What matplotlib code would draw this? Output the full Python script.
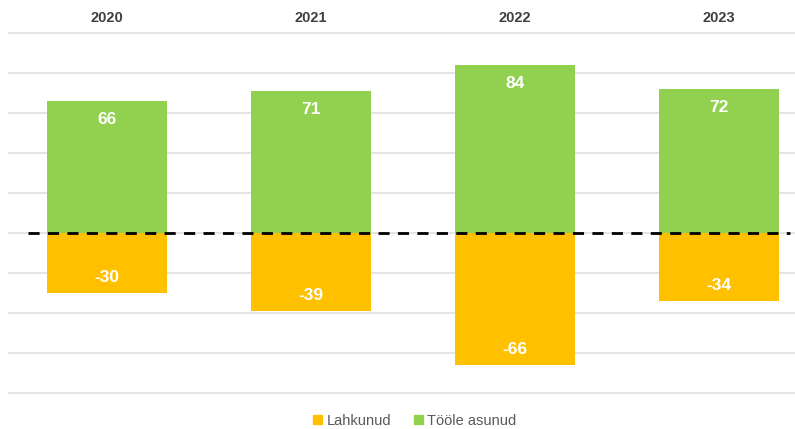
import numpy as np
import matplotlib.pyplot as plt
from matplotlib.patches import Patch

# ** DONNÉES **
aastad = ['2020', '2021', '2022', '2023']
toole_asunud = [66, 71, 84, 72]
lahkunud = [-30, -39, -66, -34]

ROHELINE = '#92D050'
ORANZ = '#FFC000'

plt.rcParams['font.family'] = ['Liberation Sans', 'DejaVu Sans']

fig = plt.figure(figsize=(7.95, 4.29), dpi=100)
W, H = 795, 429
ax = fig.add_axes([9 / W, (H - 393) / H, (795 - 9) / W, 360 / H])

x = np.arange(len(aastad))
laius = 0.588
b1 = ax.bar(x, toole_asunud, width=laius, color=ROHELINE, zorder=2)
b2 = ax.bar(x, lahkunud, width=laius, color=ORANZ, zorder=2)

# value labels inside the bars
for rect, v in zip(b1, toole_asunud):
    ax.annotate(str(v), (rect.get_x() + rect.get_width() / 2, v),
                xytext=(0, -19), textcoords='offset pixels', ha='center', va='center',
                color='white', fontsize=12.5, fontweight='bold', zorder=3)
for rect, v in zip(b2, lahkunud):
    ax.annotate(str(v), (rect.get_x() + rect.get_width() / 2, v),
                xytext=(0, 16), textcoords='offset pixels', ha='center', va='center',
                color='white', fontsize=12.5, fontweight='bold', zorder=3)

ax.set_xlim(-0.48, 3.373)
ax.set_ylim(-80, 100)
ax.set_yticks(np.arange(-80, 101, 20))
ax.yaxis.grid(True, color='#E0E0E0', linewidth=1.2, zorder=0)
ax.tick_params(axis='y', left=False, labelleft=False)
for s in ax.spines.values():
    s.set_visible(False)
for gl in ax.get_ygridlines():
    gl.set_clip_on(False)

# zero line
ax.plot([-0.387, 3.35], [0, 0], color='black', linestyle=(0, (4, 3)), linewidth=2, zorder=4)

# year labels on top
ax.xaxis.tick_top()
ax.set_xticks(x)
ax.set_xticklabels(aastad, fontsize=10.5, fontweight='bold', color='#404040')
ax.tick_params(axis='x', length=0, pad=6)

fig.legend(handles=[Patch(color=ORANZ, label='Lahkunud'), Patch(color=ROHELINE, label='Tööle asunud')],
           loc='center', bbox_to_anchor=(415 / W, 1 - 421 / H), ncol=2, frameon=False,
           fontsize=10.5, labelcolor='#595959', handlelength=0.6, handleheight=0.6,
           handletextpad=0.3, columnspacing=1.6)

fig.savefig('out.png', dpi=100)
